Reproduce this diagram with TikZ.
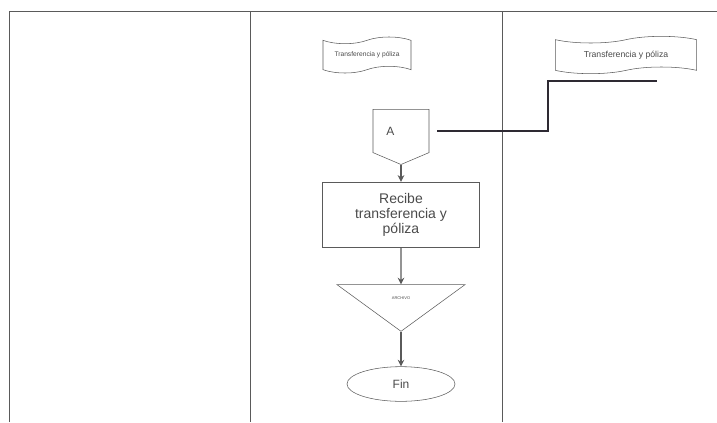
\documentclass[tikz,border=0pt]{standalone}
\usepackage{fontspec}
\setmainfont{Liberation Sans}
\usetikzlibrary{shapes.symbols,shapes.geometric,arrows.meta}
\definecolor{lineg}{HTML}{5A5A5A}
\definecolor{textg}{HTML}{4A4A4A}
\definecolor{linkc}{HTML}{2E2A33}

\begin{document}
\begin{tikzpicture}[x=0.75pt, y=-0.75pt,
  every node/.style={text=textg, font=\small},
  docu/.style={tape, draw=lineg, tape bend top=in and out, tape bend bottom=in and out,
    tape bend height=5pt, font=\fontsize{5}{6}\selectfont},
  offpage/.style={signal, draw=lineg, signal to=south, signal from=nowhere,
    signal pointer angle=134, minimum width=42pt, minimum height=37.5pt,
    text width=22pt, align=left, inner sep=1pt},
  procbox/.style={rectangle, draw=lineg, thick, minimum width=118pt, minimum height=49pt,
    align=center, inner sep=2pt, font=\fontsize{10.5}{11.5}\selectfont},
  archive/.style={isosceles triangle, draw=lineg, shape border rotate=-90,
    isosceles triangle stretches, minimum width=96pt, minimum height=35pt, inner sep=0pt,
    font=\fontsize{3}{4}\selectfont},
  term/.style={ellipse, draw=lineg, minimum width=81pt, minimum height=26pt},
  flow/.style={draw=lineg, thick, -{Stealth[length=5pt,width=5pt]}},
  link/.style={draw=linkc, line width=2pt}]
  \useasboundingbox (0,0) rectangle (717,422);

  % Draw lanes
  \draw[lineg] (9,422) -- (9,11) -- (717,11);
  \draw[lineg] (250,11) -- (250,422);
  \draw[lineg] (502,11) -- (502,422);

  % Draw nodes
  \node[docu, minimum width=66pt, minimum height=27pt] (doc1) at (367,55) {Transferencia y póliza};
  \node[docu, minimum width=106pt, minimum height=28pt, font=\fontsize{6.5}{7.5}\selectfont] (doc2) at (626,55) {Transferencia y póliza};
  \node[offpage] (conA) at (401,131) {A};
  \node[procbox] (recv) at (401,215) {Recibe\\transferencia y\\póliza};
  \node[archive, anchor=apex] (arch) at (401,332) {\raisebox{8pt}{ARCHIVO}};
  \node[term] (fin) at (401,384) {Fin};

  \coordinate (bend) at (548,81);
  \coordinate (tail) at (657,81);

  % Draw edges
  \draw[flow] (conA.south) -- (recv.north);
  \draw[flow] (recv.south) -- (arch);
  \draw[flow] (arch.apex) -- (fin.north);
  \draw[link] ([xshift=6pt]conA.east) -| (bend) -- (tail);
\end{tikzpicture}
\end{document}
